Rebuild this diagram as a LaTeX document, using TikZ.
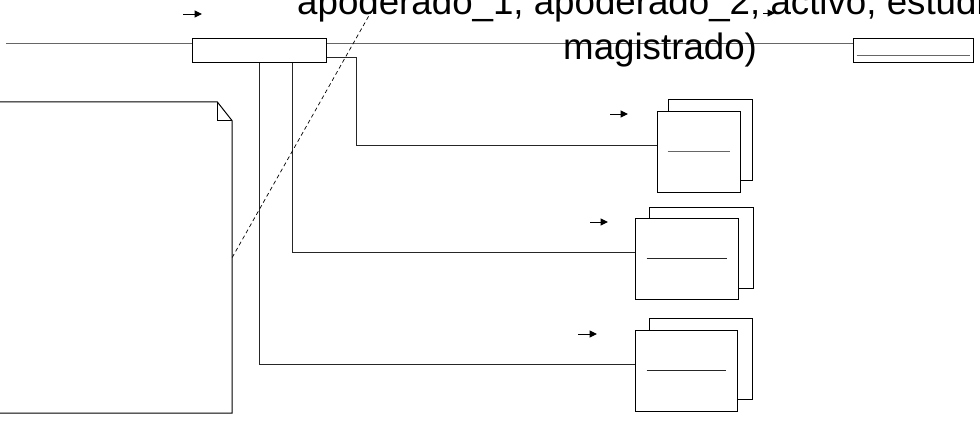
\documentclass[tikz,border=0pt]{standalone}
\usepackage{fontspec}
\setmainfont{Liberation Sans}
\usetikzlibrary{positioning, arrows.meta, calc, backgrounds}

\begin{document}
\begin{tikzpicture}[
    x=1pt, y=-1pt,
    box/.style={draw, fill=white, inner sep=0pt, line width=1pt},
    conn/.style={line width=1pt, black!85},
    dirarr/.style={-{Triangle[length=7.5pt, width=7pt]}, line width=1pt},
    lbl/.style={inner sep=0pt, font=\fontsize{36.7}{45}\selectfont}
]
\useasboundingbox (0,0) rectangle (980,423);

% Association box and class on the right
\node[box, minimum width=134pt, minimum height=24pt] (assoc) at (259,50) {};
\node[box, minimum width=120pt, minimum height=24pt] (cls) at (913,50) {};
\draw[black!60, line width=1pt] ($(cls.west)+(4,5)$) -- ($(cls.east)+(-4,5)$);

% Stacked classes
\node[box, minimum width=84pt, minimum height=81pt] (backA) at (710,139.5) {};
\node[box, minimum width=83pt, minimum height=81pt] (stackA) at (698.5,151.5) {};
\node[box, minimum width=104pt, minimum height=81pt] (backB) at (701,247.5) {};
\node[box, minimum width=103pt, minimum height=81pt] (stackB) at (686.5,258.5) {};
\node[box, minimum width=103pt, minimum height=81pt] (backC) at (700.5,358.5) {};
\node[box, minimum width=102pt, minimum height=81pt] (stackC) at (686,370.5) {};
\draw[black!60, line width=1pt] ($(stackA.west)+(11,0)$) -- ($(stackA.east)+(-11,0)$);
\draw[conn] ($(stackB.west)+(12,0)$) -- ($(stackB.east)+(-12,0)$);
\draw[conn] ($(stackC.west)+(12,0)$) -- ($(stackC.east)+(-12,0)$);

% Note
\node[minimum width=252pt, minimum height=311pt, inner sep=0pt] (note) at (106,257.5) {};
\draw[line width=1pt] (note.north west) -- ($(note.north east)+(-15,0)$)
    -- ($(note.north east)+(0,19)$) -- (note.south east) -- (note.south west);
\draw[line width=1pt] ($(note.north east)+(-15,0)$) |- ($(note.north east)+(0,19)$);

% Connectors
\draw[conn] ($(assoc.east)+(0,7)$) -- ++(30,0) |- ($(stackA.west)+(0,-6.5)$);
\draw[conn] ($(assoc.south)+(33,0)$) |- ($(stackB.west)+(0,-6.5)$);
\draw[conn] (assoc.south) |- ($(stackC.west)+(0,-6.5)$);

% Role labels
\node[lbl, anchor=base west] (roleA) at (297,14) {apoderado\_1, apoderado\_2, activo, estudiante,};
\node[lbl, anchor=base west] (roleB) at (563,59) {magistrado)};
\coordinate (tagA) at (371,12);
\draw[dashed, line width=0.7pt, dash pattern=on 4pt off 3pt] (note.east) -- (tagA);

% Direction arrows
\coordinate (dirA) at (183,14);
\coordinate (dirB) at (763,13);
\coordinate (dirC) at (610,114);
\coordinate (dirD) at (590,222);
\coordinate (dirE) at (578,334);
\draw[dirarr] (dirA) -- ++(19,0);
\draw[dirarr] (dirB) -- ++(12,0);
\draw[dirarr] (dirC) -- ++(18,0);
\draw[dirarr] (dirD) -- ++(18,0);
\draw[dirarr] (dirE) -- ++(19,0);

% Main line
\begin{scope}[on background layer]
\coordinate (lineStart) at (6,43);
\draw[black!60, line width=1pt] (lineStart) -- ($(cls.west)+(0,-7)$);
\end{scope}

\end{tikzpicture}
\end{document}
